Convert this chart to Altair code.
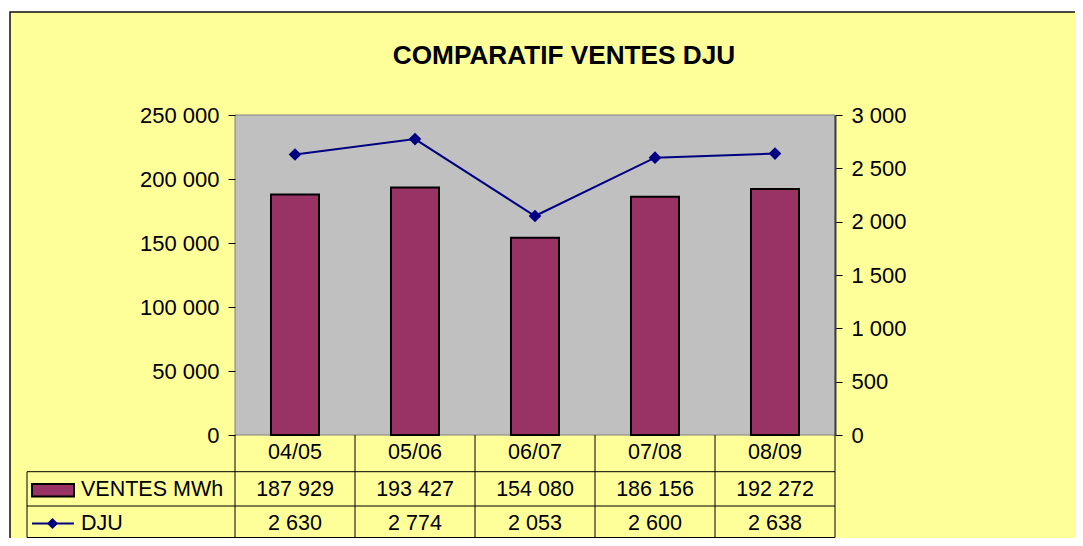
import altair as alt
import pandas as pd

# ---- data ----
categories = ["04/05", "05/06", "06/07", "07/08", "08/09"]
ventes = [187929, 193427, 154080, 186156, 192272]
dju = [2630, 2774, 2053, 2600, 2638]
title_text = "COMPARATIF VENTES DJU"
series_names = ["VENTES MWh", "DJU"]
ventes_ticks = [0, 50000, 100000, 150000, 200000, 250000]
dju_ticks = [0, 500, 1000, 1500, 2000, 2500, 3000]


def fmt(v):
    return f"{v:,}".replace(",", " ")


df = pd.DataFrame({
    "cat": categories,
    "ventes": ventes,
    "dju": dju,
    "ventes_lbl": [fmt(v) for v in ventes],
    "dju_lbl": [fmt(v) for v in dju],
})

FONT = "Liberation Sans"
FS_AX = 22
FS = 21.5
W, H = 600, 320
BG = "#FFFF99"
PLOT_BG = "#C0C0C0"
BAR = "#993366"
LINE = "#000080"

xenc = alt.X("cat:N", sort=categories,
             scale=alt.Scale(paddingInner=0, paddingOuter=0), axis=None)

one = alt.Data(values=[{"a": 1}])

# outer frame (yellow) and plot area (gray)
frame = alt.Chart(one).mark_rect(fill=BG, stroke="#111111", strokeWidth=1.5).encode(
    x=alt.value(-225), x2=alt.value(900), y=alt.value(-103), y2=alt.value(480))
plot_bg = alt.Chart(one).mark_rect(fill=PLOT_BG, stroke="#808080", strokeWidth=1).encode(
    x=alt.value(0), x2=alt.value(W), y=alt.value(0), y2=alt.value(H))

bars = alt.Chart(df).mark_bar(size=48, color=BAR, stroke="black", strokeWidth=2).encode(
    x=xenc,
    y=alt.Y("ventes:Q", scale=alt.Scale(domain=[0, 250000], nice=False),
            axis=alt.Axis(orient="left", values=ventes_ticks, title=None, grid=False,
                          domain=False, tickSize=7, tickColor="black", labelPadding=9,
                          labelFont=FONT, labelFontSize=FS_AX, labelColor="black",
                          labelExpr="replace(format(datum.value, ','), ',', ' ')",
                          zindex=1)),
)

dju_axis = alt.Axis(orient="right", values=dju_ticks, title=None, grid=False,
                    domain=True, domainColor="#404040", domainWidth=2,
                    tickSize=7, tickColor="black", labelPadding=9,
                    labelFont=FONT, labelFontSize=FS_AX, labelColor="black",
                    labelExpr="replace(format(datum.value, ','), ',', ' ')",
                    zindex=1)
dju_scale = alt.Scale(domain=[0, 3000], nice=False)

line = alt.Chart(df).mark_line(color=LINE, strokeWidth=2).encode(
    x=xenc, y=alt.Y("dju:Q", scale=dju_scale, axis=dju_axis))
points = alt.Chart(df).mark_point(shape="diamond", filled=True, color=LINE, size=160, opacity=1).encode(
    x=xenc, y=alt.Y("dju:Q", scale=dju_scale, axis=None))

# ---- data table below ----
T0, T1, T2, T3 = H, 356.7, 391, 422.5
TL = -208


def hrule(y):
    return alt.Chart(one).mark_rule(color="black", strokeWidth=1).encode(
        x=alt.value(TL), x2=alt.value(W), y=alt.value(y))


vlines = alt.Chart(df).mark_rule(color="black", strokeWidth=1).encode(
    x=alt.X("cat:N", sort=categories, scale=alt.Scale(paddingInner=0, paddingOuter=0),
            axis=None, bandPosition=0),
    y=alt.value(T0), y2=alt.value(T3))
vright = alt.Chart(one).mark_rule(color="black", strokeWidth=1).encode(
    x=alt.value(W), y=alt.value(T0), y2=alt.value(T3))
vleft = alt.Chart(one).mark_rule(color="black", strokeWidth=1).encode(
    x=alt.value(TL), y=alt.value(T1), y2=alt.value(T3))

txt_kw = dict(font=FONT, fontSize=FS, color="black", baseline="middle", align="center")
hdr = alt.Chart(df).mark_text(**txt_kw).encode(x=xenc, y=alt.value(337.5), text="cat:N")
row1 = alt.Chart(df).mark_text(**txt_kw).encode(x=xenc, y=alt.value(374.5), text="ventes_lbl:N")
row2 = alt.Chart(df).mark_text(**txt_kw).encode(x=xenc, y=alt.value(408.5), text="dju_lbl:N")

lbl_df = pd.DataFrame({"name": series_names})
lbl1 = alt.Chart(lbl_df).transform_filter(alt.datum.name == series_names[0]).mark_text(
    font=FONT, fontSize=FS, color="black", baseline="middle", align="left").encode(
    x=alt.value(-154), y=alt.value(374.5), text="name:N")
lbl2 = alt.Chart(lbl_df).transform_filter(alt.datum.name == series_names[1]).mark_text(
    font=FONT, fontSize=FS, color="black", baseline="middle", align="left").encode(
    x=alt.value(-154), y=alt.value(408.5), text="name:N")

swatch = alt.Chart(one).mark_rect(fill=BAR, stroke="black", strokeWidth=2).encode(
    x=alt.value(-203), x2=alt.value(-161), y=alt.value(369), y2=alt.value(381.5))
leg_line = alt.Chart(one).mark_rule(color=LINE, strokeWidth=2).encode(
    x=alt.value(-203), x2=alt.value(-161), y=alt.value(408.5))
leg_pt = alt.Chart(one).mark_point(shape="diamond", filled=True, color=LINE, size=120, opacity=1).encode(
    x=alt.value(-182.5), y=alt.value(408.5))

title = alt.Chart(one).mark_text(font=FONT, fontSize=26.2, fontWeight="bold", color="black",
                                 baseline="middle", align="center").encode(
    x=alt.value(329), y=alt.value(-59), text=alt.value(title_text))

chart = alt.layer(
    frame, plot_bg, bars, line, points,
    hrule(T1), hrule(T2), hrule(T3), vlines, vright, vleft,
    hdr, row1, row2, lbl1, lbl2, swatch, leg_line, leg_pt, title,
).resolve_scale(y="independent").properties(
    width=W, height=H,
    autosize=alt.AutoSizeParams(type="none"),
    padding={"left": 227, "top": 107, "right": 240, "bottom": 103},
    background="white",
).configure_view(stroke=None, fill=None)

chart.save("out.html", embed_options={"renderer": "svg", "actions": False})
